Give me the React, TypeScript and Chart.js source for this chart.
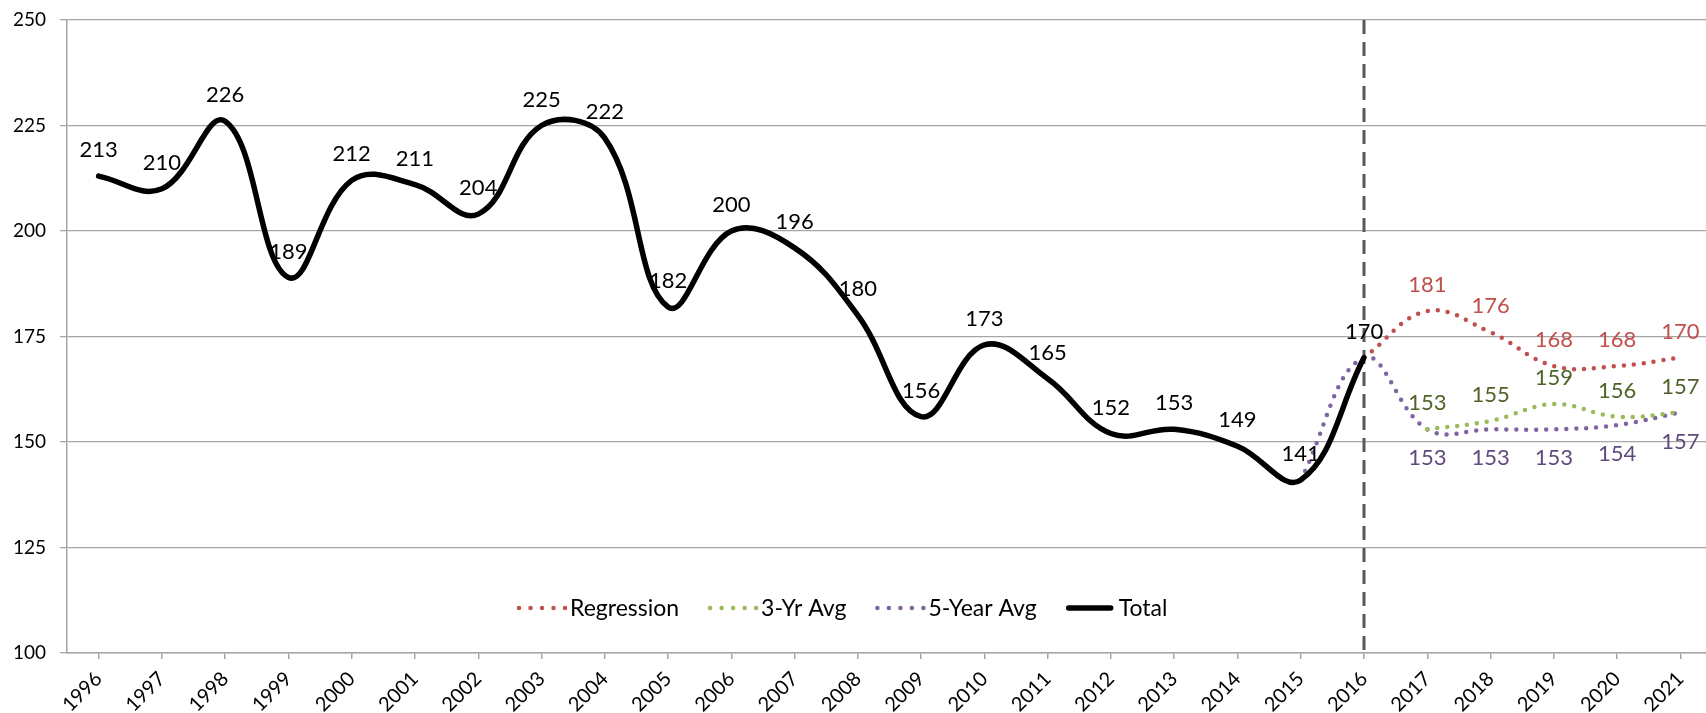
import React, { useEffect, useRef } from 'react';
import { Chart, registerables } from 'chart.js';

Chart.register(...registerables);

// ---------------- data ----------------
const years = [
  '1996', '1997', '1998', '1999', '2000', '2001', '2002', '2003', '2004', '2005',
  '2006', '2007', '2008', '2009', '2010', '2011', '2012', '2013', '2014', '2015',
  '2016', '2017', '2018', '2019', '2020', '2021',
];

const total = [
  213, 210, 226, 189, 212, 211, 204, 225, 222, 182,
  200, 196, 180, 156, 173, 165, 152, 153, 149, 141,
  170, null, null, null, null, null,
];

const regression = [
  null, null, null, null, null, null, null, null, null, null,
  null, null, null, null, null, null, null, null, null, null,
  170, 181, 176, 168, 168, 170,
];

const threeYrAvg = [
  null, null, null, null, null, null, null, null, null, null,
  null, null, null, null, null, null, null, null, null, null,
  null, 153, 155, 159, 156, 157,
];

const fiveYearAvg = [
  null, null, null, null, null, null, null, null, null, null,
  null, null, null, null, null, null, null, null, null, 141,
  170, 153, 153, 153, 154, 157,
];

const yTicks = [100, 125, 150, 175, 200, 225, 250];
const dividerYear = '2016';
const forecastStartYear = '2017';

// ---------------- styles ----------------
const RED = '#C0504D';
const GREEN = '#9BBB59';
const PURPLE = '#8064A2';
const GRID = '#A6A6A6';
const FONT = 'Lato';

const seriesStyle = [
  { label: 'Regression', color: RED, labelColor: '#C0504D', dotted: true, labelDy: -26, labelFromForecast: true },
  { label: '3-Yr Avg', color: GREEN, labelColor: '#4F6228', dotted: true, labelDy: -26, labelFromForecast: true },
  { label: '5-Year Avg', color: PURPLE, labelColor: '#604A7B', dotted: true, labelDy: 29, labelFromForecast: true },
  { label: 'Total', color: '#000000', labelColor: '#000000', dotted: false, labelDy: -26, labelFromForecast: false },
];

const seriesData = [regression, threeYrAvg, fiveYearAvg, total];

const dividerPlugin = {
  id: 'dividerLine',
  beforeDatasetsDraw(chart: any) {
    const { ctx, chartArea, scales } = chart;
    const x = scales.x.getPixelForValue(years.indexOf(dividerYear));
    ctx.save();
    ctx.strokeStyle = '#595959';
    ctx.lineWidth = 3;
    ctx.setLineDash([14, 8]);
    ctx.beginPath();
    ctx.moveTo(x, chartArea.top);
    ctx.lineTo(x, chartArea.bottom);
    ctx.stroke();
    ctx.restore();
  },
};

const valueLabelPlugin = {
  id: 'valueLabels',
  afterDatasetsDraw(chart: any) {
    const { ctx } = chart;
    const startIdx = years.indexOf(forecastStartYear);
    ctx.save();
    ctx.font = `22px ${FONT}`;
    ctx.textAlign = 'center';
    ctx.textBaseline = 'middle';
    chart.data.datasets.forEach((ds: any, di: number) => {
      const st = seriesStyle[di];
      const meta = chart.getDatasetMeta(di);
      meta.data.forEach((pt: any, i: number) => {
        const v = ds.data[i];
        if (v === null || v === undefined) return;
        if (st.labelFromForecast && i < startIdx) return;
        ctx.fillStyle = st.labelColor;
        ctx.fillText(String(v), pt.x, pt.y + st.labelDy);
      });
    });
    ctx.restore();
  },
};

const legendPlugin = {
  id: 'insideLegend',
  afterDraw(chart: any) {
    const { ctx } = chart;
    const y = 608;
    let x = 517;
    const markerLen = 48;
    ctx.save();
    ctx.font = `23px ${FONT}`;
    ctx.textBaseline = 'middle';
    ctx.textAlign = 'left';
    seriesStyle.forEach((st) => {
      ctx.beginPath();
      ctx.strokeStyle = st.color;
      ctx.lineCap = 'round';
      if (st.dotted) {
        ctx.lineWidth = 4.5;
        ctx.setLineDash([0, 11.5]);
        ctx.moveTo(x + 2, y);
        ctx.lineTo(x + 48.5, y);
      } else {
        ctx.lineWidth = 5.5;
        ctx.setLineDash([]);
        ctx.moveTo(x + 3, y);
        ctx.lineTo(x + 45, y);
      }
      ctx.stroke();
      ctx.setLineDash([]);
      const tx = x + markerLen + 5;
      ctx.fillStyle = '#000';
      ctx.fillText(st.label, tx, y + 1);
      x = tx + ctx.measureText(st.label).width + 29;
    });
    ctx.restore();
  },
};

export default function App() {
  const canvasRef = useRef<HTMLCanvasElement | null>(null);

  useEffect(() => {
    document.body.style.margin = '0';
    document.body.style.overflow = 'hidden';
    const canvas = canvasRef.current;
    if (!canvas) return;

    const datasets = seriesStyle.map((st, i) => ({
      label: st.label,
      data: seriesData[i],
      borderColor: st.color,
      backgroundColor: st.color,
      borderWidth: st.dotted ? 4.5 : 5.5,
      borderDash: st.dotted ? [0, 10] : [],
      borderCapStyle: 'round' as const,
      borderJoinStyle: 'round' as const,
      pointRadius: 0,
      pointHoverRadius: 0,
      tension: 0.4,
      fill: false,
      spanGaps: false,
      order: st.dotted ? 1 : 0,
    }));

    const chart = new Chart(canvas, {
      type: 'line',
      data: { labels: years, datasets },
      options: {
        animation: false,
        responsive: false,
        maintainAspectRatio: false,
        layout: { padding: { top: 20, right: 0, left: 0, bottom: 0 } },
        plugins: {
          legend: { display: false },
          tooltip: { enabled: false },
        },
        scales: {
          x: {
            offset: true,
            grid: {
              drawOnChartArea: false,
              drawTicks: true,
              tickLength: 6,
              color: GRID,
              lineWidth: 1.5,
            },
            border: { color: GRID, width: 1.5 },
            ticks: {
              font: { family: FONT, size: 20 },
              color: '#000',
              minRotation: 45,
              maxRotation: 45,
              autoSkip: false,
              padding: 8,
            },
            afterFit: (s: any) => {
              s.height = 60;
              s.paddingLeft = 0;
              s.paddingRight = 0;
            },
          },
          y: {
            min: 100,
            max: 250,
            afterBuildTicks: (s: any) => {
              s.ticks = yTicks.map((v) => ({ value: v }));
            },
            ticks: {
              font: { family: FONT, size: 19 },
              color: '#000',
              padding: 14,
            },
            grid: { color: GRID, lineWidth: 1.3, tickLength: 7 },
            border: { color: GRID, width: 1.5 },
            afterFit: (s: any) => {
              s.width = 67;
              s.paddingTop = 0;
              s.paddingBottom = 0;
            },
          },
        },
      },
      plugins: [dividerPlugin, valueLabelPlugin, legendPlugin],
    });

    return () => chart.destroy();
  }, []);

  return (
    <div style={{ width: 1706, height: 713, position: 'relative', overflow: 'hidden', background: '#fff' }}>
      <canvas ref={canvasRef} width={1712} height={713} style={{ display: 'block' }} />
    </div>
  );
}
